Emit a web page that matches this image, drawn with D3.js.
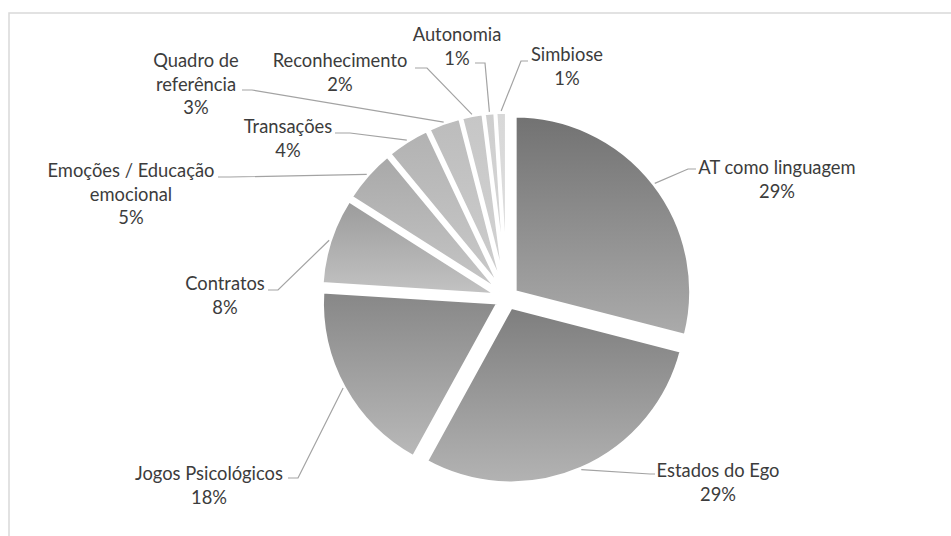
<!DOCTYPE html>
<html>
<head>
<meta charset="utf-8">
<script src="https://cdn.jsdelivr.net/npm/d3@7"></script>
<style>
  body { margin: 0; background: #fff; }
  svg { display: block; }
  text { font-family: Lato, "Open Sans", sans-serif; fill: #3c3c3c; }
</style>
</head>
<body>
<svg id="chart" width="951" height="536"></svg>
<script>
// data (clockwise from 12 o'clock)
var categories = ["AT como linguagem", "Estados do Ego", "Jogos Psicológicos", "Contratos",
  "Emoções / Educação emocional", "Transações", "Quadro de referência",
  "Reconhecimento", "Autonomia", "Simbiose"];
var percentages = [29, 29, 18, 8, 5, 4, 3, 2, 1, 1];

// grey gradient per slice (top -> bottom)
var shadeTop = ["#727272", "#7e7e7e", "#878787", "#9b9b9b", "#a8a8a8", "#b2b2b2", "#bcbcbc", "#c6c6c6", "#cecece", "#d8d8d8"];
var shadeBottom = ["#ababab", "#b3b3b3", "#b9b9b9", "#c3c3c3", "#c7c7c7", "#cacaca", "#cfcfcf", "#d4d4d4", "#d9d9d9", "#e0e0e0"];

// where excel put each label: text centre, first baseline, leader knee and end
var labelLayout = {
  "AT como linguagem":            {tx: 777, ty: 174, kx: 688, lx: 696, ly: 169, wrap: 0},
  "Estados do Ego":               {tx: 718, ty: 477, kx: 650, lx: 655, ly: 474, wrap: 0},
  "Jogos Psicológicos":           {tx: 209, ty: 480, kx: 298, lx: 288, ly: 478, wrap: 0},
  "Contratos":                    {tx: 225, ty: 290, kx: 278, lx: 268, ly: 290, wrap: 0},
  "Emoções / Educação emocional": {tx: 131, ty: 177, kx: 230, lx: 218, ly: 177, wrap: 3},
  "Transações":                   {tx: 288, ty: 133, kx: 350, lx: 335, ly: 133, wrap: 0},
  "Quadro de referência":         {tx: 196, ty: 67,  kx: 252, lx: 242, ly: 90,  wrap: 2},
  "Reconhecimento":               {tx: 340, ty: 67,  kx: 427, lx: 415, ly: 68,  wrap: 0},
  "Autonomia":                    {tx: 457, ty: 41,  kx: 485, lx: 475, ly: 63,  wrap: 0},
  "Simbiose":                     {tx: 567, ty: 61,  kx: 521, lx: 528, ly: 61,  wrap: 0}
};

var width = 951, height = 536;
var cx = 507, cy = 298, radius = 176, explode = 10;
var lineGap = 23.5;

var svg = d3.select("#chart");

svg.append("rect")
  .attr("width", width).attr("height", height)
  .attr("fill", "#fff");

// chart area frame (only top and left edges are inside the picture)
svg.append("rect")
  .attr("x", 9).attr("y", 13)
  .attr("width", width).attr("height", height)
  .attr("fill", "none")
  .attr("stroke", "#d9d9d9")
  .attr("stroke-width", 1.5);

var rows = categories.map(function(c, i) {
  return {name: c, value: percentages[i], idx: i};
});

//************************ Gradients *************************/
var defs = svg.append("defs");
var grads = defs.selectAll("linearGradient")
  .data(rows)
  .enter().append("linearGradient")
  .attr("id", function(d) { return "shade" + d.idx; })
  .attr("x1", 0).attr("y1", 0).attr("x2", 0).attr("y2", 1);
grads.append("stop").attr("offset", "0%").attr("stop-color", function(d) { return shadeTop[d.idx]; });
grads.append("stop").attr("offset", "100%").attr("stop-color", function(d) { return shadeBottom[d.idx]; });

//************************ Pie *************************/
var pie = d3.pie().sort(null).value(function(d) { return d.value; });
var arcs = pie(rows);

var arc = d3.arc().innerRadius(0).outerRadius(radius);
var rim = d3.arc().innerRadius(radius + explode + 1).outerRadius(radius + explode + 1);

function shift(d) {
  var a = (d.startAngle + d.endAngle) / 2;
  return [explode * Math.sin(a), -explode * Math.cos(a)];
}

var g = svg.append("g").attr("transform", "translate(" + cx + "," + cy + ")");

g.selectAll("path.slice")
  .data(arcs)
  .enter().append("path")
  .attr("class", "slice")
  .attr("d", arc)
  .attr("transform", function(d) { var s = shift(d); return "translate(" + s[0] + "," + s[1] + ")"; })
  .attr("fill", function(d) { return "url(#shade" + d.data.idx + ")"; })
  .attr("stroke", "#fff")
  .attr("stroke-width", 3.5);

//************************ Leader lines *************************/
svg.append("g").selectAll("polyline")
  .data(arcs)
  .enter().append("polyline")
  .attr("fill", "none")
  .attr("stroke", "#a3a3a3")
  .attr("stroke-width", 1.2)
  .attr("points", function(d) {
    var p = rim.centroid(d);
    var L = labelLayout[d.data.name];
    return [[cx + p[0], cy + p[1]], [L.kx, L.ly], [L.lx, L.ly]].join(" ");
  });

//************************ Labels *************************/
// size the font so a label is as wide as in the excel picture
var probe = svg.append("text").style("font-size", "20px").text("Jogos Psicológicos");
var fontSize = 20 * 148 / probe.node().getComputedTextLength();
probe.remove();

var labels = svg.append("g").selectAll("text")
  .data(arcs)
  .enter().append("text")
  .attr("text-anchor", "middle")
  .style("font-size", fontSize + "px");

labels.each(function(d) {
  var L = labelLayout[d.data.name];
  var words = d.data.name.split(" ");
  var lines = L.wrap ? [words.slice(0, L.wrap).join(" "), words.slice(L.wrap).join(" ")] : [d.data.name];
  lines.push(d.data.value + "%");
  d3.select(this).selectAll("tspan")
    .data(lines)
    .enter().append("tspan")
    .attr("x", L.tx)
    .attr("y", function(t, i) { return L.ty + i * lineGap; })
    .text(function(t) { return t; });
});
</script>
</body>
</html>
